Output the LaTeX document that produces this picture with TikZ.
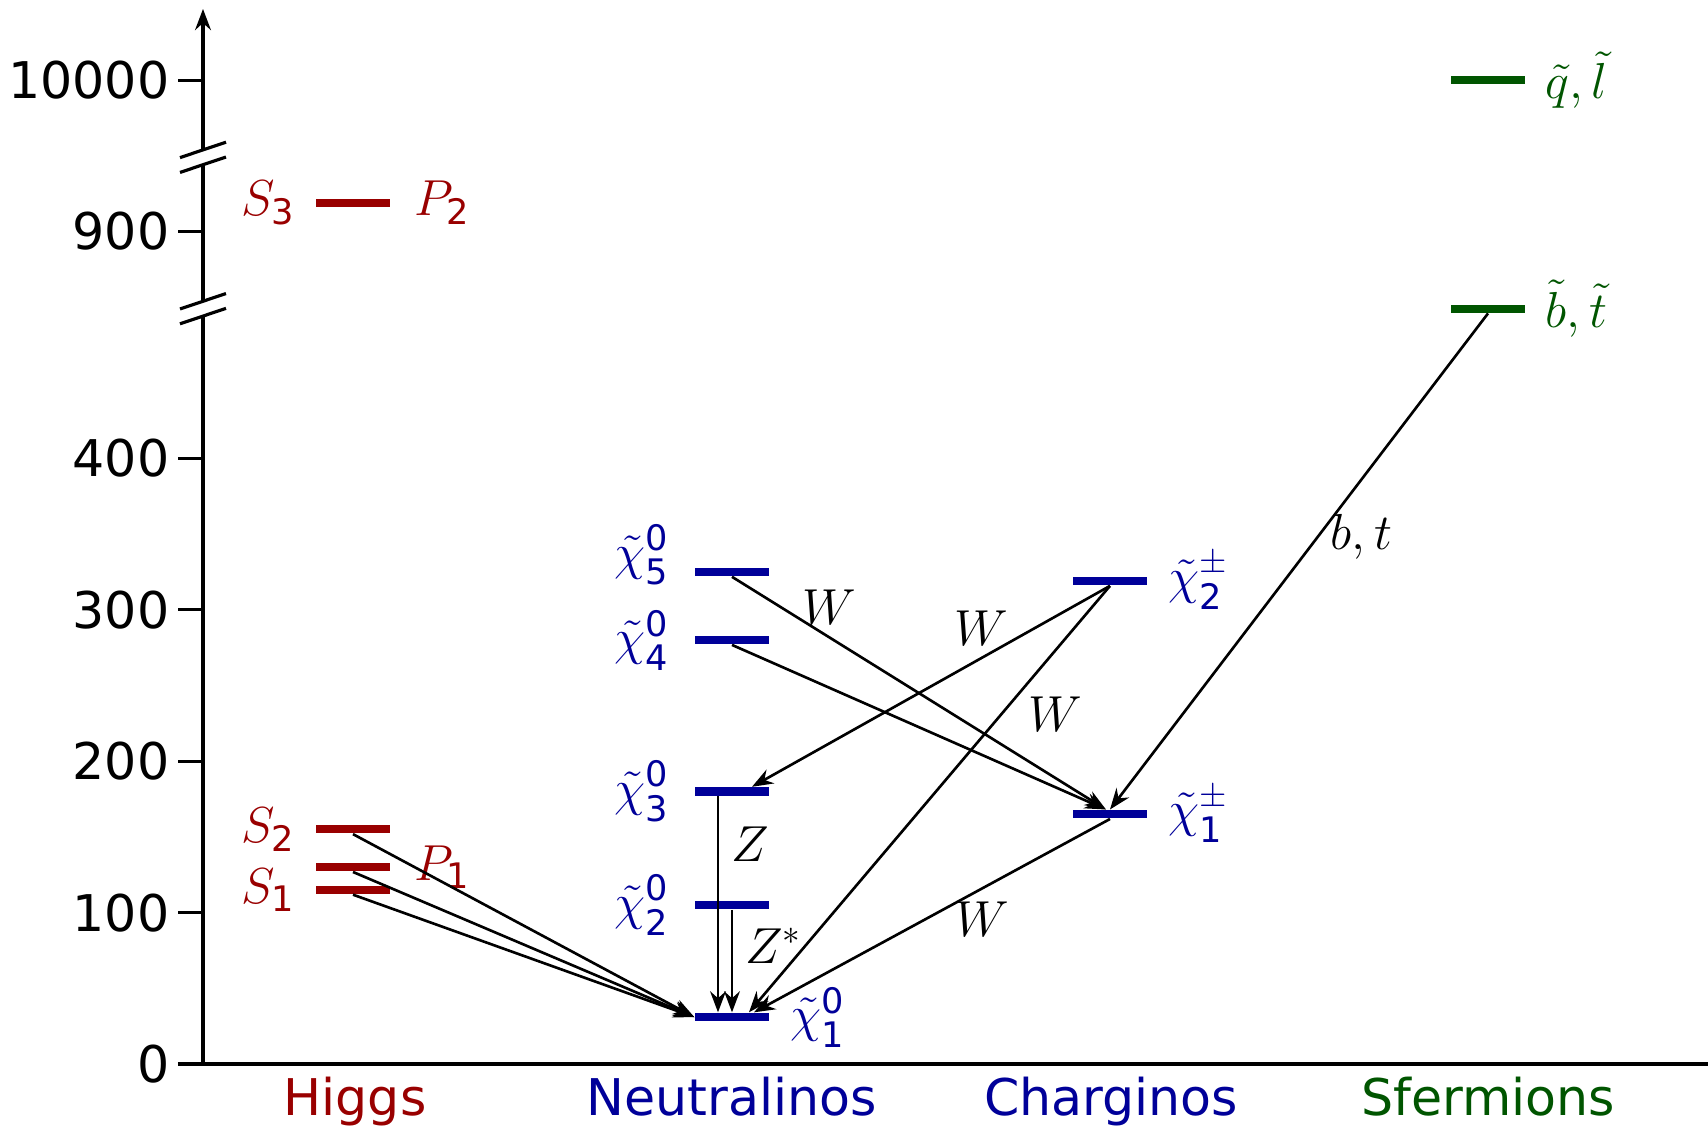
\documentclass[tikz,border=0pt]{standalone}
\usepackage{amsmath}
\usepackage{fontspec}
\setmainfont{DejaVu Sans}
\usetikzlibrary{positioning, arrows.meta}
\definecolor{higgs-red}{RGB}{153,0,0}
\definecolor{gaugino-blue}{RGB}{0,0,153}
\definecolor{sfermion-green}{RGB}{0,85,0}
\newcommand{\neu}[1]{\tilde{\chi}^{\text{0}}_{\text{#1}}}
\newcommand{\cha}[1]{\tilde{\chi}^{\pm}_{\text{#1}}}

\begin{document}
\begin{tikzpicture}[x=1cm, y=0.01514cm, >={Stealth[length=6pt, width=4.5pt, inset=2pt]},
      every node/.style={font=\Large},
      lvl/.style={fill=#1, minimum width=0.74cm, minimum height=2.3pt, inner sep=0pt},
      lbl/.style={text=#1, inner sep=1pt},
      decay/.style={->, line width=0.75pt}]
    \useasboundingbox (-2.03cm,-0.67cm) rectangle (15.05cm,10.64cm);
    % broken mass axis
    \draw[line width=0.9pt] (0,0) -- (0,494.2);
    \draw[line width=0.9pt] (0,503.8) -- (0,594.2);
    \draw[->, line width=0.9pt] (0,603.8) -- (0,697);
    \draw[line width=0.9pt] (-0.25,0) -- (15.05,0);
    \foreach \b in {499,599} {
      \draw[line width=0.9pt] (-0.23,\b-10) -- (0.23,\b+0.2);
      \draw[line width=0.9pt] (-0.23,\b-0.2) -- (0.23,\b+10);
    }
    \foreach \m in {0,100,200,300,400}
      \draw[line width=0.9pt] (0,\m) -- (-0.25,\m) node[left, inner sep=2pt] (tick\m) {\m};
    \draw[line width=0.9pt] (0,550) -- (-0.25,550) node[left, inner sep=2pt] (tick900) {900};
    \draw[line width=0.9pt] (0,650) -- (-0.25,650) node[left, inner sep=2pt] (tick10000) {10000};

    % Higgs
    \node[lvl=higgs-red] (S3) at (1.5,569) {};
    \node[lvl=higgs-red] (S2) at (1.5,155) {};
    \node[lvl=higgs-red] (P1) at (1.5,130) {};
    \node[lvl=higgs-red] (S1) at (1.5,115) {};
    \node[lbl=higgs-red, left=0.15cm of S3] (S3-lbl) {$S_{\text{3}}$};
    \node[lbl=higgs-red, right=0.2cm of S3] (P2-lbl) {$P_{\text{2}}$};
    \node[lbl=higgs-red, left=0.15cm of S2] (S2-lbl) {$S_{\text{2}}$};
    \node[lbl=higgs-red, left=0.15cm of S1] (S1-lbl) {$S_{\text{1}}$};
    \node[lbl=higgs-red, right=0.2cm of P1] (P1-lbl) {$P_{\text{1}}$};

    % Neutralinos
    \node[lvl=gaugino-blue] (N5) at (5.29,325) {};
    \node[lvl=gaugino-blue] (N4) at (5.29,280) {};
    \node[lvl=gaugino-blue] (N3) at (5.29,180) {};
    \node[lvl=gaugino-blue] (N2) at (5.29,105) {};
    \node[lvl=gaugino-blue] (N1) at (5.29,31) {};
    \node[lbl=gaugino-blue, left=0.2cm of N5, yshift=0.17cm] (N5-lbl) {$\neu{5}$};
    \node[lbl=gaugino-blue, left=0.2cm of N4] (N4-lbl) {$\neu{4}$};
    \node[lbl=gaugino-blue, left=0.2cm of N3] (N3-lbl) {$\neu{3}$};
    \node[lbl=gaugino-blue, left=0.2cm of N2] (N2-lbl) {$\neu{2}$};
    \node[lbl=gaugino-blue, right=0.17cm of N1] (N1-lbl) {$\neu{1}$};

    % Charginos
    \node[lvl=gaugino-blue] (C2) at (9.07,319) {};
    \node[lvl=gaugino-blue] (C1) at (9.07,165) {};
    \node[lbl=gaugino-blue, right=0.17cm of C2] (C2-lbl) {$\cha{2}$};
    \node[lbl=gaugino-blue, right=0.17cm of C1] (C1-lbl) {$\cha{1}$};

    % Sfermions
    \node[lvl=sfermion-green] (SQ) at (12.85,650) {};
    \node[lvl=sfermion-green] (SB) at (12.85,499) {};
    \node[lbl=sfermion-green, right=0.16cm of SQ] (SQ-lbl) {$\tilde{q},\tilde{l}$};
    \node[lbl=sfermion-green, right=0.16cm of SB] (SB-lbl) {$\tilde{b},\tilde{t}$};

    % decays
    \draw[decay] (S2.south) -- (N1.west);
    \draw[decay] (P1.south) -- (N1.west);
    \draw[decay] (S1.south) -- (N1.west);
    \draw[decay] ([xshift=-0.14cm]N3.south) -- node[pos=0.22, right] (Z-lbl) {$Z$} ([xshift=-0.14cm]N1.north);
    \draw[decay] (N2.south) -- node[pos=0.35, right] (Zs-lbl) {$Z^*$} (N1.north);
    \draw[decay] (N5.south) -- node[pos=0.26, above] (W1-lbl) {$W$} ([xshift=-0.04cm]C1.north);
    \draw[decay] (N4.south) -- ([xshift=-0.04cm]C1.north);
    \draw[decay] (C2.south) -- node[pos=0.36, above] (W2-lbl) {$W$} ([xshift=0.2cm]N3.north);
    \draw[decay] (C2.south) -- node[pos=0.3, right=4pt] (W3-lbl) {$W$} ([xshift=0.17cm]N1.north);
    \draw[decay] (C1.south) -- node[pos=0.36, below] (W4-lbl) {$W$} ([xshift=0.22cm]N1.north);
    \draw[decay] (SB.south) -- node[pos=0.45, right] (bt-lbl) {$b,t$} (C1.north);

    % column names
    \node[lbl=higgs-red, anchor=base] (higgs) at (1.52,-33.7) {Higgs};
    \node[lbl=gaugino-blue, anchor=base] (neutralinos) at (5.29,-33.7) {Neutralinos};
    \node[lbl=gaugino-blue, anchor=base] (charginos) at (9.08,-33.7) {Charginos};
    \node[lbl=sfermion-green, anchor=base] (sfermions) at (12.85,-33.7) {Sfermions};
  \end{tikzpicture}
\end{document}
